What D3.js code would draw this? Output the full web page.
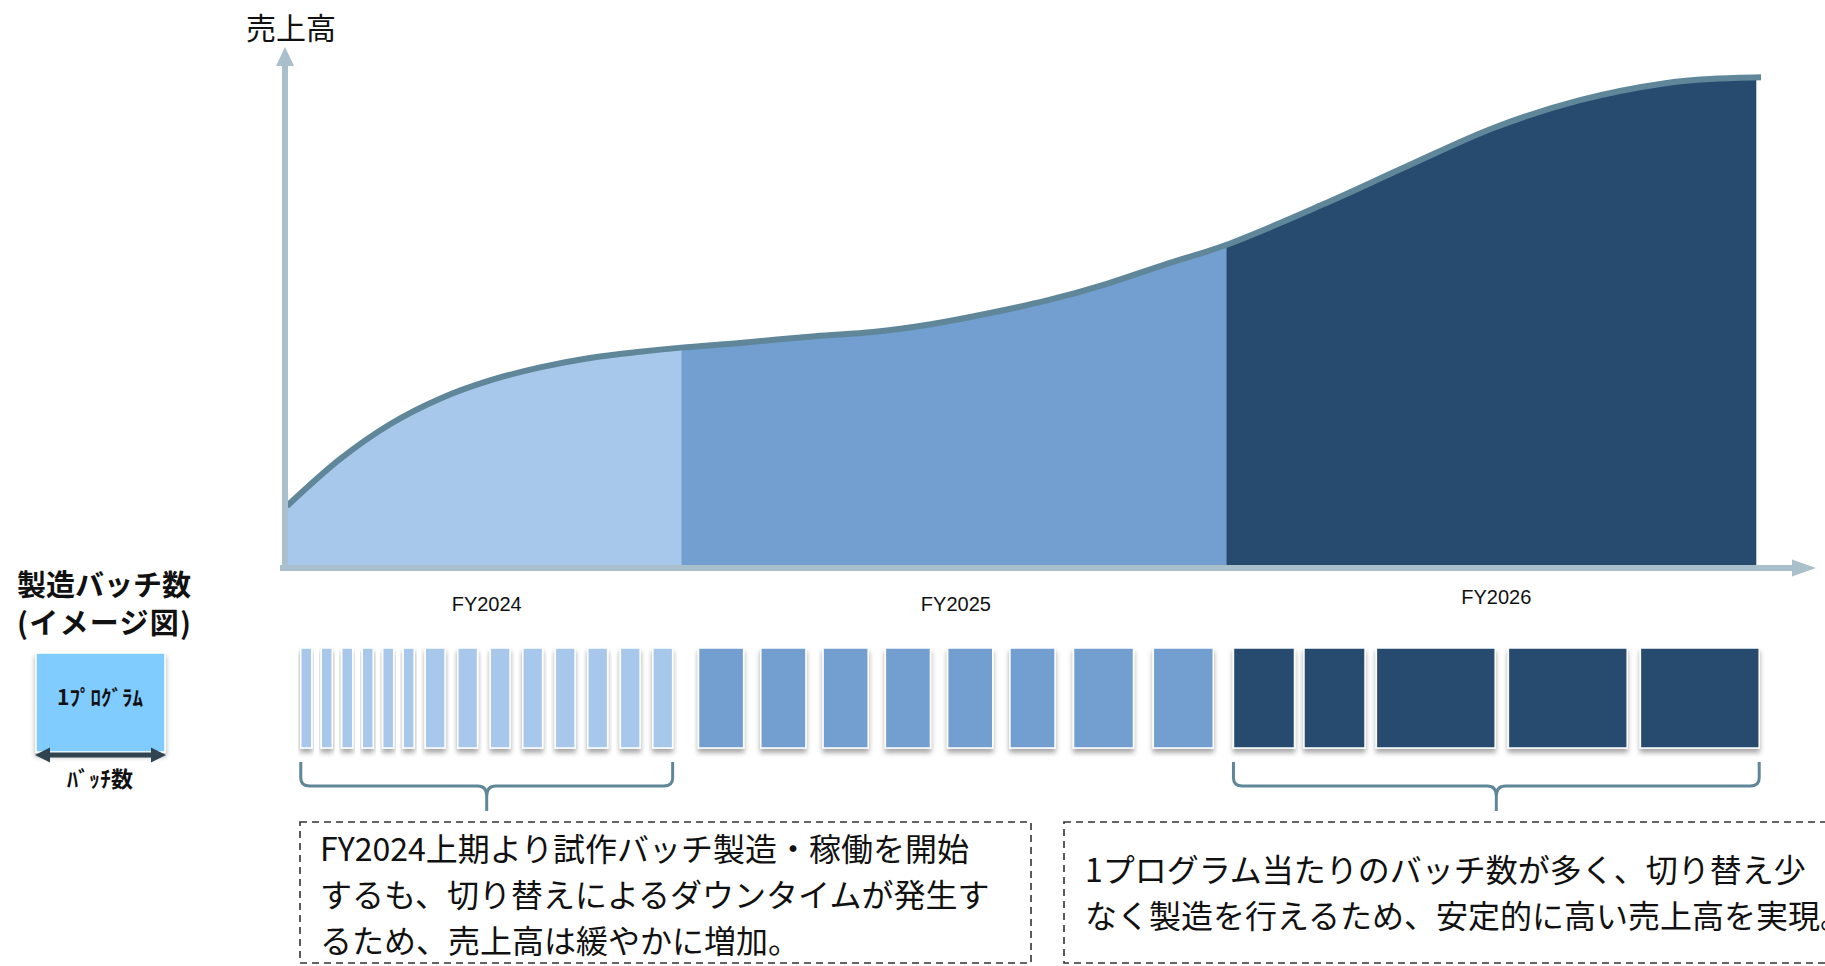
<!DOCTYPE html>
<html><head><meta charset="utf-8">
<script src="https://cdn.jsdelivr.net/npm/d3@7"></script>
<style>
html,body{margin:0;padding:0;background:#fff;overflow:hidden}
svg{display:block}
</style></head><body>
<svg id="chart" width="1825" height="966"></svg>
<script>
// ---------------- data ----------------
const fiscalYears = ["FY2024", "FY2025", "FY2026"];
// fiscal-year boundaries on the (unitless) time axis, 0..100
const fyBounds = [0.13, 25.9, 61.5, 96.1];
// sales curve (unitless index, 0..100)
const salesX = [0.13, 3.59, 6.86, 10.12, 13.39, 16.66, 19.92, 23.19, 25.87, 29.72, 34.62, 38.41, 42.19, 45.98, 49.84, 53.63, 57.41, 61.46, 67.73, 73.35, 78.97, 84.58, 90.27, 93.34, 96.41];
const salesY = [11.9, 20.9, 27.6, 32.5, 36.0, 38.5, 40.3, 41.5, 42.3, 43.2, 44.5, 45.3, 46.8, 48.9, 51.4, 54.5, 58.2, 62.0, 69.7, 77.2, 84.5, 89.8, 93.1, 93.9, 94.2];
// batches per program (relative size) in each fiscal year
const batches2024 = [1, 1, 1, 1, 1, 1, 1.8, 1.8, 1.8, 1.8, 1.8, 1.8, 1.8, 1.8];
const batches2025 = [4.1, 4.1, 4.1, 4.1, 4.1, 4.1, 5.45, 5.45];
const batches2026 = [5.55, 5.55, 10.8, 10.8, 10.8];
// production window of each fiscal year on the time axis
const batchWindows = [[1.03, 25.32], [27.01, 60.63], [61.95, 96.29]];
const bracedYears = [0, 2];
const yAxisLabel = "売上高";
const legendTitle = ["製造バッチ数", "(イメージ図)"];
const legendBoxLabel = "1ﾌﾟﾛｸﾞﾗﾑ";
const legendArrowLabel = "ﾊﾞｯﾁ数";
const note1Lines = ["FY2024上期より試作バッチ製造・稼働を開始", "するも、切り替えによるダウンタイムが発生す", "るため、売上高は緩やかに増加。"];
const note2Lines = ["1プログラム当たりのバッチ数が多く、切り替え少", "なく製造を行えるため、安定的に高い売上高を実現。"];

// ---------------- setup ----------------
const JP = "'Noto Sans CJK JP', 'Noto Sans', sans-serif";
const svg = d3.select("#chart");
const defs = svg.append("defs");
const shadow = defs.append("filter").attr("id", "shadow")
  .attr("x", "-20%").attr("y", "-20%").attr("width", "140%").attr("height", "160%");
shadow.append("feDropShadow").attr("dx", 0).attr("dy", 4).attr("stdDeviation", 2.5)
  .attr("flood-color", "#000").attr("flood-opacity", 0.35);

const x = d3.scaleLinear().domain([0, 100]).range([285, 1816]);
const y = d3.scaleLinear().domain([0, 100]).range([568, 47]);
const color = d3.scaleOrdinal().domain(fiscalYears).range(["#A8C8EB", "#729FCF", "#264B6E"]);
const curveColor = "#5F8799";
const axisColor = "#A9BFCB";

const pts = salesX.map((d, i) => [d, salesY[i]]);
const curve = d3.curveCatmullRom.alpha(0.5);
const area = d3.area().x(d => x(d[0])).y0(y(0)).y1(d => y(d[1])).curve(curve);
const line = d3.line().x(d => x(d[0])).y(d => y(d[1])).curve(curve);

// ---------------- area fills by fiscal year ----------------
fiscalYears.forEach((fy, i) => {
  const cp = defs.append("clipPath").attr("id", "clip" + i);
  cp.append("rect").attr("x", x(fyBounds[i])).attr("y", 0)
    .attr("width", x(fyBounds[i + 1]) - x(fyBounds[i]) + (i < 2 ? 0.5 : 0))
    .attr("height", y(0));
  svg.append("path").attr("d", area(pts)).attr("fill", color(fy)).attr("clip-path", `url(#clip${i})`);
});
svg.append("path").attr("d", line(pts)).attr("fill", "none")
  .attr("stroke", curveColor).attr("stroke-width", 6);

// ---------------- axes ----------------
const [xa0, xa1] = x.range();
const [ya0, ya1] = y.range();
const g = svg.append("g");
g.append("line").attr("x1", xa0 - 5).attr("x2", xa1 - 22).attr("y1", ya0).attr("y2", ya0)
  .attr("stroke", axisColor).attr("stroke-width", 6);
g.append("path").attr("d", `M${xa1},${ya0} L${xa1 - 24},${ya0 - 8.5} L${xa1 - 24},${ya0 + 8.5} Z`).attr("fill", axisColor);
g.append("line").attr("x1", xa0).attr("x2", xa0).attr("y1", ya0 + 3).attr("y2", ya1 + 17)
  .attr("stroke", axisColor).attr("stroke-width", 6);
g.append("path").attr("d", `M${xa0},${ya1} L${xa0 - 9},${ya1 + 19} L${xa0 + 9},${ya1 + 19} Z`).attr("fill", axisColor);

svg.append("text").attr("x", xa0 + 6).attr("y", 39).attr("text-anchor", "middle")
  .attr("font-family", JP).attr("font-size", 30).attr("fill", "#111").text(yAxisLabel);

// FY labels
const fyLift = [0, 0, 7];
fiscalYears.forEach((fy, i) => {
  const cx = (x(batchWindows[i][0]) + x(batchWindows[i][1])) / 2;
  svg.append("text").attr("x", cx).attr("y", 611 - fyLift[i]).attr("text-anchor", "middle")
    .attr("font-family", "'Liberation Sans', Arial, sans-serif").attr("font-size", 20)
    .attr("fill", "#111").text(fy);
});

// ---------------- batch blocks ----------------
const wScale = d3.scaleLinear().domain([0, 1]).range([0, 11]);
const rowTop = 648, rowH = 100;
const blocks = [];
[batches2024, batches2025, batches2026].forEach((sizes, gi) => {
  const x0 = x(batchWindows[gi][0]), x1 = x(batchWindows[gi][1]);
  const widths = sizes.map(wScale);
  const gw = widths.slice(1).map((w, i) => (Math.sqrt(widths[i]) + Math.sqrt(w)) / 2);
  const c = (x1 - x0 - d3.sum(widths)) / d3.sum(gw);
  let cx = x0;
  widths.forEach((w, i) => {
    if (i > 0) cx += c * gw[i - 1];
    blocks.push({ x: cx, w, fy: fiscalYears[gi] });
    cx += w;
  });
});
svg.append("g").selectAll("rect").data(blocks).join("rect")
  .attr("x", d => d.x).attr("y", rowTop).attr("width", d => d.w).attr("height", rowH)
  .attr("fill", d => color(d.fy)).attr("stroke", "#fff").attr("stroke-width", 1.5)
  .attr("filter", "url(#shadow)");

// ---------------- braces ----------------
function brace(xl, xr, top, mid, tip) {
  const xc = (xl + xr) / 2;
  return `M${xl},${top} L${xl},${mid - 8} Q${xl},${mid} ${xl + 9},${mid} L${xc - 9},${mid} Q${xc},${mid} ${xc},${mid + 10} L${xc},${tip}` +
         `M${xr},${top} L${xr},${mid - 8} Q${xr},${mid} ${xr - 9},${mid} L${xc + 9},${mid} Q${xc},${mid} ${xc},${mid + 10}`;
}
bracedYears.forEach(i => {
  svg.append("path").attr("d", brace(x(batchWindows[i][0]), x(batchWindows[i][1]), 762, 786, 811))
    .attr("fill", "none").attr("stroke", curveColor).attr("stroke-width", 3);
});

// ---------------- notes ----------------
function note(bx, bw, lines, tx, baselines) {
  svg.append("rect").attr("x", bx).attr("y", 822).attr("width", bw).attr("height", 141)
    .attr("fill", "none").attr("stroke", "#333").attr("stroke-width", 1.6).attr("stroke-dasharray", "7,5");
  lines.forEach((t, i) => {
    svg.append("text").attr("x", tx).attr("y", baselines[i]).attr("font-family", JP)
      .attr("font-size", 32).attr("fill", "#111").text(t);
  });
}
note(300, 731, note1Lines, 320, [861, 907, 953]);
note(1064, 820, note2Lines, 1085, [882, 928]);

// ---------------- legend ----------------
legendTitle.forEach((t, i) => {
  const tx = svg.append("text").attr("x", 17).attr("y", 596 + i * 38).attr("font-family", JP)
    .attr("font-weight", 700).attr("font-size", 29).attr("fill", "#111").text(t);
  if (i === 1) tx.attr("textLength", 174).attr("lengthAdjust", "spacing");
});
svg.append("rect").attr("x", 36).attr("y", 653).attr("width", 129).attr("height", 99)
  .attr("fill", "#80CCFF").attr("stroke", "#fff").attr("stroke-width", 1.5).attr("filter", "url(#shadow)");
svg.append("text").attr("x", 100).attr("y", 705).attr("text-anchor", "middle").attr("font-family", JP)
  .attr("font-weight", 700).attr("font-size", 21).attr("fill", "#111").text(legendBoxLabel);
const ac = "#2F4351";
svg.append("line").attr("x1", 48).attr("x2", 153).attr("y1", 755).attr("y2", 755)
  .attr("stroke", ac).attr("stroke-width", 5);
svg.append("path").attr("d", "M35,755 L50,747.5 L50,762.5 Z M166,755 L151,747.5 L151,762.5 Z").attr("fill", ac);
svg.append("text").attr("x", 100).attr("y", 787).attr("text-anchor", "middle").attr("font-family", JP)
  .attr("font-weight", 700).attr("font-size", 22).attr("fill", "#111").text(legendArrowLabel);
</script>
</body></html>
